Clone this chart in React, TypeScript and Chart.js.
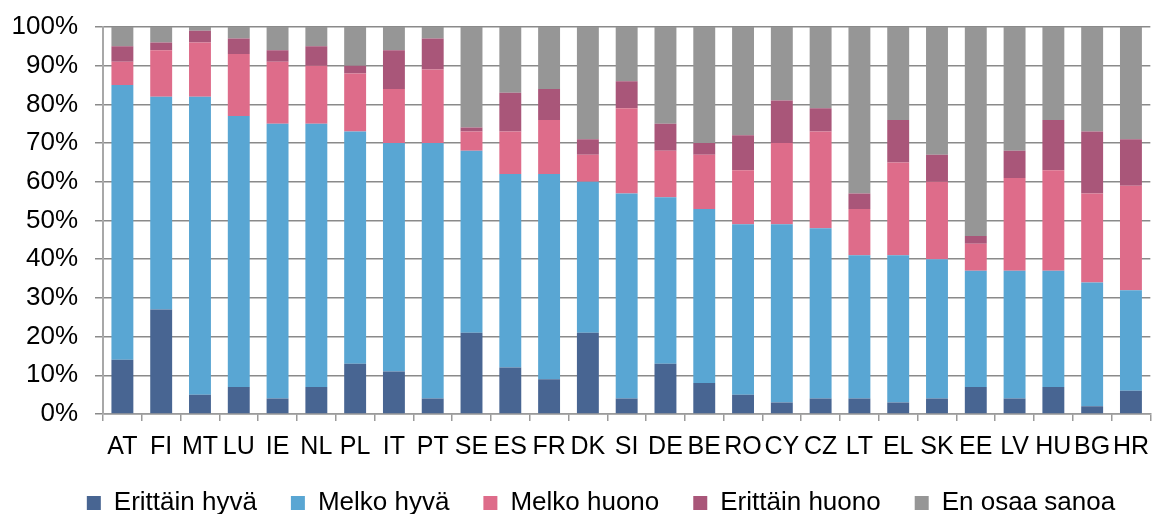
import { useEffect, useRef } from "react";
import { Chart, registerables } from "chart.js";

Chart.register(...registerables);

const categories = ["AT", "FI", "MT", "LU", "IE", "NL", "PL", "IT", "PT", "SE", "ES", "FR", "DK", "SI", "DE", "BE", "RO", "CY", "CZ", "LT", "EL", "SK", "EE", "LV", "HU", "BG", "HR"];

const erittainHyva = [14, 27, 5, 7, 4, 7, 13, 11, 4, 21, 12, 9, 21, 4, 13, 8, 5, 3, 4, 4, 3, 4, 7, 4, 7, 2, 6];
const melkoHyva = [71, 55, 77, 70, 71, 68, 60, 59, 66, 47, 50, 53, 39, 53, 43, 45, 44, 46, 44, 37, 38, 36, 30, 33, 30, 32, 26];
const melkoHuono = [6, 12, 14, 16, 16, 15, 15, 14, 19, 5, 11, 14, 7, 22, 12, 14, 14, 21, 25, 12, 24, 20, 7, 24, 26, 23, 27];
const erittainHuono = [4, 2, 3, 4, 3, 5, 2, 10, 8, 1, 10, 8, 4, 7, 7, 3, 9, 11, 6, 4, 11, 7, 2, 7, 13, 16, 12];
const enOsaaSanoa = [5, 4, 1, 3, 6, 5, 10, 6, 3, 26, 17, 16, 29, 14, 25, 30, 28, 19, 21, 43, 24, 33, 54, 32, 24, 27, 29];

const seriesNames = ["Erittäin hyvä", "Melko hyvä", "Melko huono", "Erittäin huono", "En osaa sanoa"];
const seriesColors = ["#486592", "#59A6D3", "#DE6C8A", "#A95679", "#969696"];

const FONT = '"Liberation Sans", Arial, sans-serif';

const legendShift = {
  id: "legendShift",
  afterLayout(chart: any) {
    if (chart.legend) chart.legend.left = 42;
  },
};

export default function App() {
  const canvasRef = useRef<HTMLCanvasElement | null>(null);

  useEffect(() => {
    const canvas = canvasRef.current;
    if (!canvas) return;
    const values = [erittainHyva, melkoHyva, melkoHuono, erittainHuono, enOsaaSanoa];
    const chart = new Chart(canvas, {
      type: "bar",
      data: {
        labels: categories,
        datasets: values.map((data, i) => ({
          label: seriesNames[i],
          data,
          backgroundColor: seriesColors[i],
          borderWidth: 0,
          barPercentage: 0.565,
          categoryPercentage: 1,
        })),
      },
      plugins: [legendShift],
      options: {
        animation: false,
        responsive: false,
        devicePixelRatio: 1,
        layout: { padding: { left: 0, top: 27, right: 0, bottom: 0 } },
        plugins: {
          legend: {
            position: "bottom",
            maxHeight: 58,
            labels: {
              boxWidth: 14,
              boxHeight: 14,
              padding: 34,
              color: "#000",
              font: { size: 26, family: FONT },
            },
          },
          tooltip: { enabled: false },
        },
        scales: {
          x: {
            stacked: true,
            grid: { drawOnChartArea: false, drawTicks: true, tickLength: 7, color: "#9a9a9a", lineWidth: 1.5, offset: true },
            border: { color: "#9a9a9a", width: 1.5 },
            ticks: { color: "#000", font: { size: 25, family: FONT }, padding: 11, maxRotation: 0, autoSkip: false },
            afterFit: (s: any) => { s.height = 42; },
          },
          y: {
            stacked: true,
            min: 0,
            max: 100,
            ticks: {
              stepSize: 10,
              autoSkip: false,
              color: "#000",
              padding: 17,
              font: { size: 26, family: FONT },
              callback: (v: any) => v + "%",
            },
            grid: { color: "#8a8a8a", lineWidth: 1.5, tickLength: 8 },
            border: { color: "#a8a8a8", width: 2 },
            afterFit: (s: any) => {
              s.width = 103;
              s.paddingTop = 0;
              s.paddingBottom = 0;
            },
          },
        },
      },
    });
    return () => chart.destroy();
  }, []);

  return (
    <div style={{ position: "absolute", left: 0, top: 0, width: 1160, height: 514, background: "#fff" }}>
      <canvas ref={canvasRef} width={1160} height={514} />
    </div>
  );
}
